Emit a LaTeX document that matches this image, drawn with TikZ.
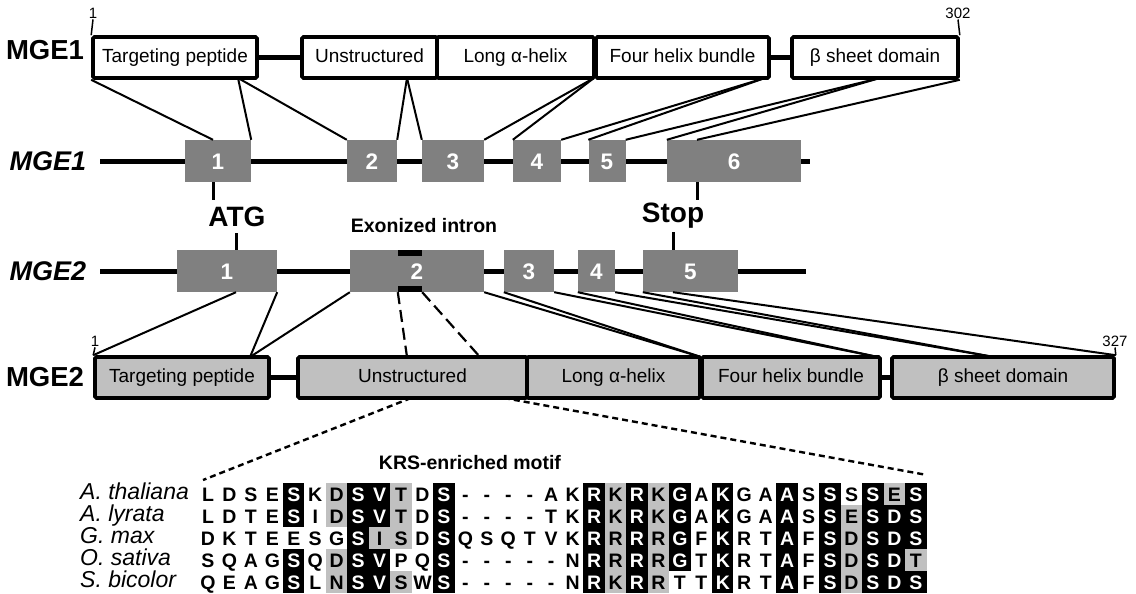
\documentclass[tikz,border=0pt]{standalone}
\usepackage{fontspec}
\setmainfont{Liberation Sans}
\usepackage{xcolor}
\definecolor{exongray}{RGB}{128,128,128}
\definecolor{domgray}{RGB}{192,192,192}
\definecolor{cellfillb}{RGB}{0,0,0}
\definecolor{cellfillg}{RGB}{192,192,192}
\definecolor{cellfillw}{RGB}{255,255,255}
\definecolor{celltextb}{RGB}{255,255,255}
\definecolor{celltextg}{RGB}{0,0,0}
\definecolor{celltextw}{RGB}{0,0,0}
\newcommand{\fsz}[1]{\fontsize{#1}{#1}\selectfont}
% one row of the alignment: row number, letter/shade pairs
\newcommand{\alnrow}[2]{%
  \foreach \ch/\sh [count=\c] in {#2}
    \node[cell=\sh] (a#1-\c) at ({208+21.45*(\c-1)},{494+22*(#1-1)}) {\ch};}

\begin{document}
\begin{tikzpicture}[
    x=1pt, y=-1pt,
    dom/.style={draw, line width=3.6pt, rounded corners=1.5pt, minimum height=41pt,
                inner sep=0pt, text height=14pt, text depth=3.8pt, font=\fsz{19}},
    dom1/.style={dom, fill=white},
    dom2/.style={dom, fill=domgray},
    exon/.style={fill=exongray, minimum height=42pt, inner sep=0pt, text=white,
                 text height=16pt, text depth=0pt, font=\bfseries\fsz{22.5}},
    imark/.style={fill=black, minimum width=24pt, minimum height=6pt, inner sep=0pt},
    plab/.style={font=\bfseries\fsz{27.5}},
    glab/.style={font=\bfseries\itshape\fsz{27}},
    codon/.style={font=\bfseries\fsz{28}},
    blab/.style={font=\bfseries\fsz{19.5}},
    num/.style={font=\fsz{15}, inner sep=1pt},
    sp/.style={anchor=west, inner sep=0pt, text height=16pt, text depth=4.5pt, font=\itshape\fsz{23}},
    cell/.style={fill=cellfill#1, text=celltext#1, minimum width=21.6pt, minimum height=22.2pt,
                 inner sep=0pt, text height=14pt, text depth=0pt, font=\bfseries\fsz{19.5}},
    gene/.style={line width=5pt},
    link/.style={line width=4.5pt},
    map/.style={line width=2pt},
    stub/.style={line width=3pt},
    tick/.style={line width=1.5pt},
    intr/.style={line width=2.2pt, dash pattern=on 12pt off 6pt},
    zoomln/.style={line width=2.4pt, dash pattern=on 6pt off 4pt},
  ]
  \useasboundingbox (0,0) rectangle (1136,594);

  % protein MGE1
  \node[plab] (pl1) at (45,50) {MGE1};
  \node[dom1, minimum width=164pt] (tp1) at (175,57.5) {Targeting peptide};
  \node[dom1, minimum width=135pt] (un1) at (369.5,57.5) {Unstructured};
  \node[dom1, minimum width=157pt] (la1) at (515.5,57.5) {Long α-helix};
  \node[dom1, minimum width=173pt] (fh1) at (682.5,57.5) {Four helix bundle};
  \node[dom1, minimum width=166pt] (bs1) at (875,57.5) {β sheet domain};
  \draw[link] (tp1) -- (un1);
  \draw[link] (fh1) -- (bs1);
  \node[num] (n1a) at (93,13) {1};
  \node[num] (n302) at (958,13) {302};
  \draw[tick] (n1a.south) -- (tp1.north west);
  \draw[tick] (n302.south) -- (bs1.north east);

  % gene MGE1
  \node[glab] (gl1) at (48,161) {MGE1};
  \coordinate (g1s) at (100,161);
  \coordinate (g1e) at (810,161);
  \draw[gene] (g1s) -- (g1e);
  \node[exon, minimum width=66pt] (e1a) at (218,161) {1};
  \node[exon, minimum width=50pt] (e2a) at (372,161) {2};
  \node[exon, minimum width=62pt] (e3a) at (453,161) {3};
  \node[exon, minimum width=48pt] (e4a) at (537,161) {4};
  \node[exon, minimum width=37pt] (e5a) at (607,161) {5};
  \node[exon, minimum width=134pt] (e6a) at (734,161) {6};

  % start and stop codons
  \coordinate (atg1) at (213,200);
  \coordinate (atg2) at (236,233);
  \coordinate (stop1) at (697,200);
  \coordinate (stop2) at (673,232);
  \node[codon] (atg) at (237,217) {ATG};
  \node[codon] (stop) at (673,216) {Stop};

  % gene MGE2
  \node[glab] (gl2) at (48,271) {MGE2};
  \coordinate (g2s) at (100,271);
  \coordinate (g2e) at (806,271);
  \draw[gene] (g2s) -- (g2e);
  \node[exon, minimum width=100pt] (e1b) at (227,271) {1};
  \node[exon, minimum width=134pt] (e2b) at (417,271) {2};
  \node[exon, minimum width=50pt] (e3b) at (529,271) {3};
  \node[exon, minimum width=37pt] (e4b) at (596.5,271) {4};
  \node[exon, minimum width=95pt] (e5b) at (690.5,271) {5};
  \node[imark] (imt) at (410,253) {};
  \node[imark] (imb) at (410,289) {};
  \node[blab] (exi) at (424,226) {Exonized intron};

  \draw[stub] (atg1 |- e1a.south) -- (atg1);
  \draw[stub] (atg2) -- (atg2 |- e1b.north);
  \draw[stub] (stop1 |- e6a.south) -- (stop1);
  \draw[stub] (stop2) -- (stop2 |- e5b.north);

  % protein MGE2
  \node[plab] (pl2) at (45,377.5) {MGE2};
  \node[dom2, minimum width=174pt] (tp2) at (182,377.5) {Targeting peptide};
  \node[dom2, minimum width=229pt] (un2) at (412.5,377.5) {Unstructured};
  \node[dom2, minimum width=173pt] (la2) at (613.5,377.5) {Long α-helix};
  \node[dom2, minimum width=178pt] (fh2) at (791,377.5) {Four helix bundle};
  \node[dom2, minimum width=222pt] (bs2) at (1003,377.5) {β sheet domain};
  \draw[link] (tp2) -- (un2);
  \draw[link] (fh2) -- (bs2);
  \node[num] (n1b) at (95,341) {1};
  \node[num] (n327) at (1115,341) {327};
  \draw[tick] (n1b.south) -- (tp2.north west);
  \draw[tick] (n327.south) -- (bs2.north east);

  % protein MGE1 to exons
  \coordinate (tpj1) at (238,78);
  \coordinate (unj1) at (407,78);
  \coordinate (laj1) at (594,78);
  \coordinate (fhj1) at (765,78);
  \coordinate (bsj1) at (880,78);
  \draw[map] (tp1.south west) -- (atg1 |- e1a.north);
  \draw[map] (tpj1) -- (e1a.north east);
  \draw[map] (tpj1) -- (e2a.north west);
  \draw[map] (unj1) -- (e2a.north east);
  \draw[map] (unj1) -- (e3a.north west);
  \draw[map] (laj1) -- (e3a.north east);
  \draw[map] (laj1) -- (e4a.north west);
  \draw[map] (fhj1) -- (e4a.north east);
  \draw[map] (fhj1) -- (e5a.north west);
  \draw[map] (bsj1) -- (e5a.north east);
  \draw[map] (bsj1) -- (e6a.north west);
  \draw[map] (bs1.south east) -- (stop1 |- e6a.north);

  % exons to protein MGE2
  \coordinate (tpj2) at (250,357);
  \coordinate (unja) at (407,357);
  \coordinate (unjb) at (480,357);
  \coordinate (laj2) at (701,357);
  \coordinate (fhj2) at (878,357);
  \coordinate (bsj2) at (994,357);
  \draw[map] (atg2 |- e1b.south) -- (tp2.north west);
  \draw[map] (e1b.south east) -- (tpj2);
  \draw[map] (e2b.south west) -- (tpj2);
  \draw[intr] (imb.south west) -- (unja);
  \draw[intr] (imb.south east) -- (unjb);
  \draw[map] (e2b.south east) -- (laj2);
  \draw[map] (e3b.south west) -- (laj2);
  \draw[map] (e3b.south east) -- (fhj2);
  \draw[map] (e4b.south west) -- (fhj2);
  \draw[map] (e4b.south east) -- (bsj2);
  \draw[map] (e5b.south west) -- (bsj2);
  \draw[map] (stop2 |- e5b.south) -- (bs2.north east);

  % zoom into the alignment
  \coordinate (unl) at (411,398);
  \coordinate (unr) at (504,398);
  \coordinate (zl) at (203,480);
  \coordinate (zr) at (927,475);
  \draw[zoomln] (unl) -- (zl);
  \draw[zoomln] (unr) -- (zr);
  \node[blab] (krs) at (470,463) {KRS-enriched motif};

  % alignment
  \node[sp] (sp1) at (80,494) {A. thaliana};
  \node[sp] (sp2) at (80,516) {A. lyrata};
  \node[sp] (sp3) at (80,538) {G. max};
  \node[sp] (sp4) at (80,560) {O. sativa};
  \node[sp] (sp5) at (80,582) {S. bicolor};
  \alnrow{1}{L/w,D/w,S/w,E/w,S/b,K/w,D/g,S/b,V/b,T/g,D/w,S/b,-/w,-/w,-/w,-/w,A/w,K/w,R/b,K/g,R/b,K/g,G/b,A/w,K/b,G/w,A/w,A/b,S/w,S/b,S/w,S/b,E/g,S/b}
  \alnrow{2}{L/w,D/w,T/w,E/w,S/b,I/w,D/g,S/b,V/b,T/g,D/w,S/b,-/w,-/w,-/w,-/w,T/w,K/w,R/b,K/g,R/b,K/g,G/b,A/w,K/b,G/w,A/w,A/b,S/w,S/b,E/g,S/b,D/b,S/b}
  \alnrow{3}{D/w,K/w,T/w,E/w,E/w,S/w,G/w,S/b,I/g,S/g,D/w,S/b,Q/w,S/w,Q/w,T/w,V/w,K/w,R/b,R/g,R/b,R/g,G/b,F/w,K/b,R/w,T/w,A/b,F/w,S/b,D/g,S/b,D/b,S/b}
  \alnrow{4}{S/w,Q/w,A/w,G/w,S/b,Q/w,D/g,S/b,V/b,P/w,Q/w,S/b,-/w,-/w,-/w,-/w,-/w,N/w,R/b,R/g,R/b,R/g,G/b,T/w,K/b,R/w,T/w,A/b,F/w,S/b,D/g,S/b,D/b,T/g}
  \alnrow{5}{Q/w,E/w,A/w,G/w,S/b,L/w,N/g,S/b,V/b,S/g,W/w,S/b,-/w,-/w,-/w,-/w,-/w,N/w,R/b,K/g,R/b,R/g,T/w,T/w,K/b,R/w,T/w,A/b,F/w,S/b,D/g,S/b,D/b,S/b}
\end{tikzpicture}
\end{document}
